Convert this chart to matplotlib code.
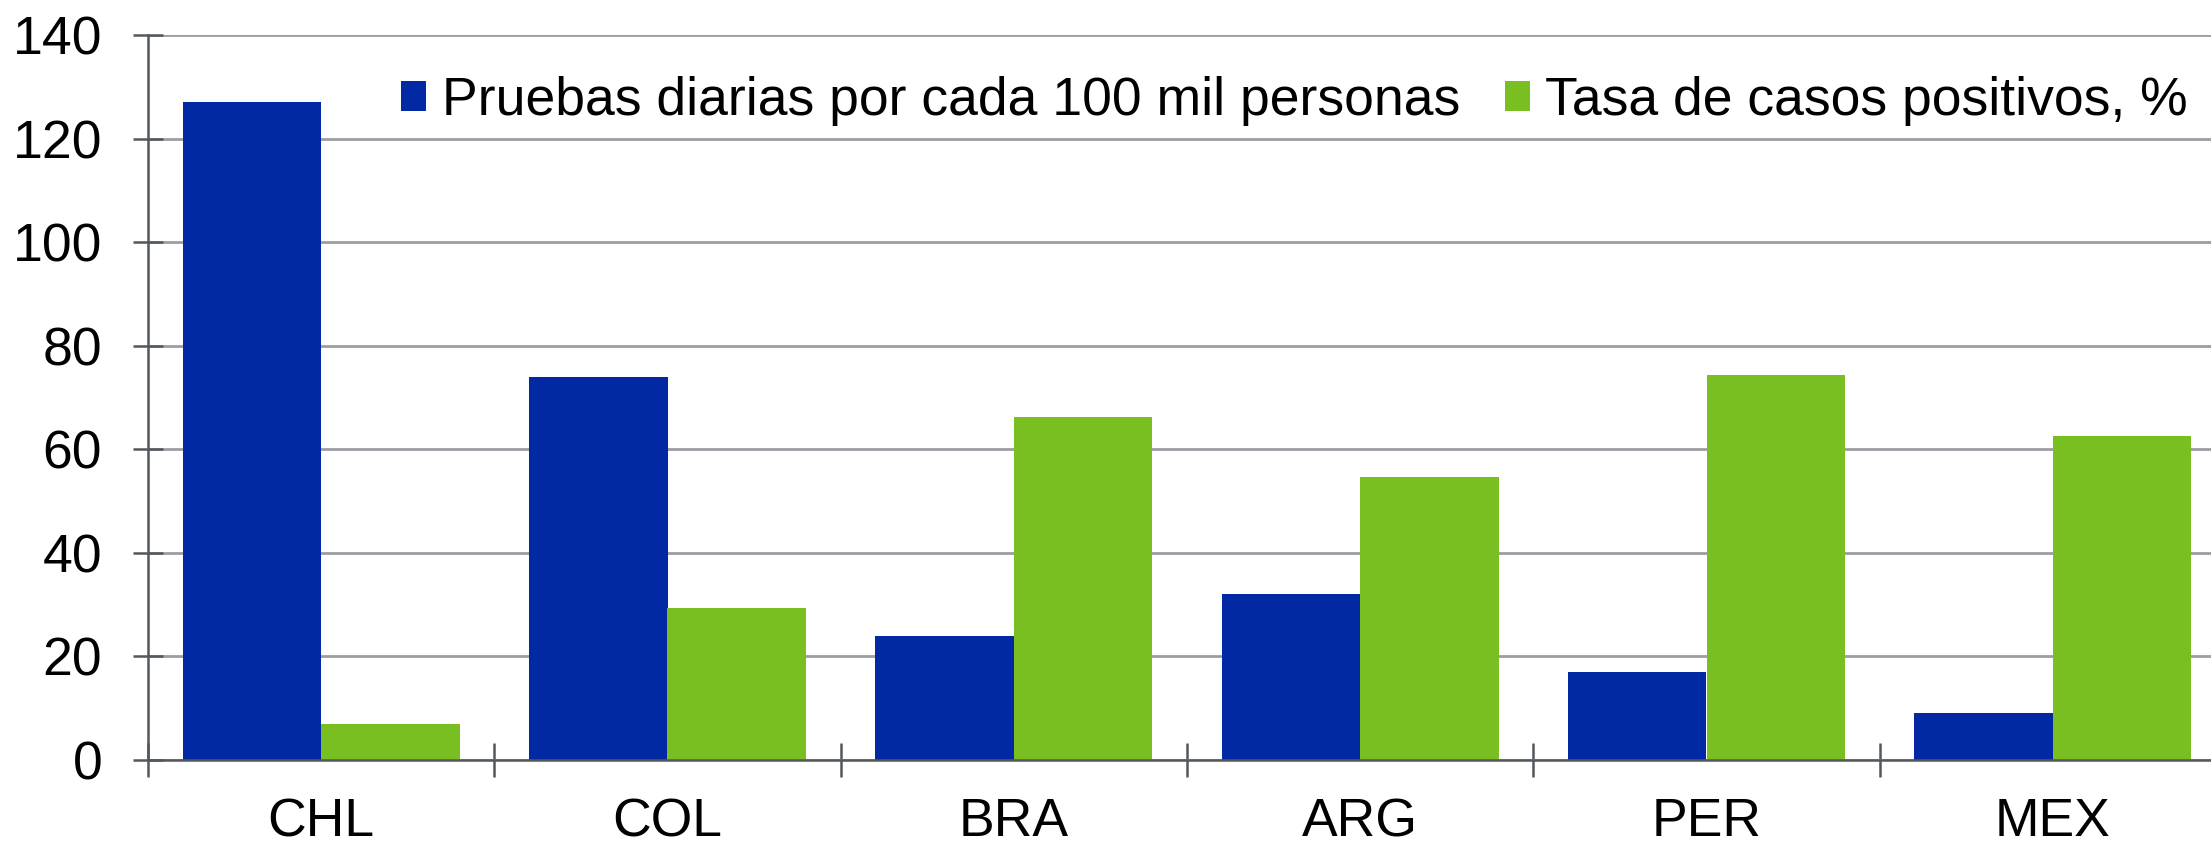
import numpy as np
import matplotlib
matplotlib.use("Agg")
import matplotlib.pyplot as plt
from matplotlib.patches import Patch

# ============================
# Data
# ============================
countries = ["CHL", "COL", "BRA", "ARG", "PER", "MEX"]
pruebas = [127, 74, 24, 32, 17, 9]
positivos = [7, 29.3, 66.3, 54.6, 74.4, 62.5]
series_names = ["Pruebas diarias por cada 100 mil personas", "Tasa de casos positivos, %"]
yticks = [0, 20, 40, 60, 80, 100, 120, 140]

blue = "#0029a3"
green = "#7abf22"
axis_col = "#53585d"
grid_col = "#9a9ea3"

plt.rcParams['font.family'] = ['Liberation Sans', 'DejaVu Sans']

# ============================
# Figure
# ============================
W, H = 2211, 844
fig = plt.figure(figsize=(W / 100, H / 100), dpi=100)
left, right, top, bottom = 148, 2226, 35, 760
ax = fig.add_axes([left / W, 1 - bottom / H, (right - left) / W, (bottom - top) / H])

x = np.arange(len(countries))
ax.bar(x - 0.2, pruebas, width=0.4, color=blue, zorder=3)
ax.bar(x + 0.2, positivos, width=0.4, color=green, zorder=3)

ax.set_xlim(-0.5, len(countries) - 0.5)
ax.set_ylim(0, 140)
ax.set_yticks(yticks)
ax.set_yticklabels([str(v) for v in yticks])

# category boundaries as major ticks, labels on minor ticks
ax.set_xticks(np.arange(len(countries) + 1) - 0.5)
ax.set_xticklabels([])
ax.set_xticks(x, minor=True)
ax.set_xticklabels(countries, minor=True)

ax.yaxis.grid(True, color=grid_col, linewidth=2.0, zorder=0)
ax.set_axisbelow(True)

for s in ["top", "right"]:
    ax.spines[s].set_visible(False)
for s in ["left", "bottom"]:
    ax.spines[s].set_color(axis_col)
    ax.spines[s].set_linewidth(1.8)
    ax.spines[s].set_zorder(4)

ax.tick_params(axis="y", direction="inout", length=22, width=1.8, color=axis_col,
               labelsize=38.5, pad=22)
ax.tick_params(axis="x", which="major", direction="inout", length=24, width=1.8,
               color=axis_col)
ax.tick_params(axis="x", which="minor", length=0, labelsize=38.5, pad=27)

handles = [Patch(facecolor=blue), Patch(facecolor=green)]
fig.legend(handles, series_names, loc="center right",
           bbox_to_anchor=(2188 / W, 1 - 101 / H), ncol=2, frameon=False,
           fontsize=38.5, handlelength=0.47, handleheight=0.47,
           handletextpad=0.29, columnspacing=0.84, borderpad=0, borderaxespad=0)

fig.savefig("out.png", dpi=100)
